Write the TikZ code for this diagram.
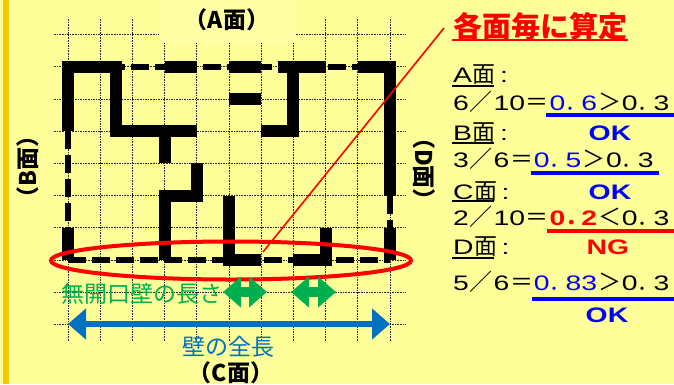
\documentclass[tikz,border=0pt]{standalone}
\usepackage{fontspec}
\usetikzlibrary{arrows.meta,positioning,shapes.geometric}
\newfontfamily\numfont[FakeStretch=1.35]{Liberation Sans}
\newfontfamily\cjk{Noto Sans CJK JP}
\newcommand{\fs}[1]{\fontsize{#1}{#1}\selectfont}
\newcommand{\cj}[1]{\kern0.8pt{\cjk\fs{23}#1}\kern0.8pt}
\newcommand{\dt}{\makebox[16pt][l]{\cjk\fs{21}．}}
\definecolor{pagebg}{HTML}{FFFF99}
\definecolor{boxbg}{HTML}{FFFFA6}
\definecolor{barcol}{HTML}{F5C800}
\definecolor{lengreen}{HTML}{00B050}
\definecolor{lenblue}{HTML}{0070C0}
\tikzset{
  gridline/.style={black!85,line width=0.8pt,dash pattern=on 1.6pt off 1pt},
  wall/.style={line width=12pt,line join=miter},
  thinwall/.style={line width=6pt,dash pattern=on 18pt off 6pt},
  sidelabel/.style={inner sep=0pt,font=\cjk\bfseries\fs{23}},
  rowtext/.style={anchor=west,inner sep=0pt,text height=14pt,text depth=0pt,font=\numfont\fs{21}},
  verdict/.style={inner sep=0pt,font=\numfont\bfseries\fs{21}},
  okbar/.style={blue,line width=4pt},
  ngbar/.style={red,line width=4pt},
  underbar/.style={black,line width=1.6pt},
}
\begin{document}
\begin{tikzpicture}[x=1pt,y=-1pt]
  \useasboundingbox (0,0) rectangle (674,384);
  \fill[pagebg] (0,0) rectangle (674,384);
  \fill[barcol] (3,0) rectangle (9,384);
  % grid and plan, in grid squares
  \begin{scope}[shift={(68,260)},x=32.2pt,y=32.2pt]
    \foreach \i in {0,...,10}
      \draw[gridline] (\i,7.48) -- (\i,-2.5);
    \foreach \j in {-2,...,7}
      \draw[gridline] (-0.43,\j) -- (10.5,\j);
    \node[fill=boxbg,inner sep=0pt,minimum width=137pt,minimum height=43pt] (afacebox) at (4.95,7.42) {};
    \draw[thinwall,dash phase=9pt] (1.5,6) -- (3,6);
    \draw[thinwall,dash phase=18pt] (4,6) -- (5,6);
    \draw[thinwall,dash phase=7pt] (6,6) -- (6.5,6);
    \draw[thinwall,dash phase=22pt] (8,6) -- (9,6);
    \draw[thinwall] (0,4) -- (0,1);
    \draw[thinwall] (10,2) -- (10,1);
    \draw[thinwall] (0,0) -- (5,0);
    \draw[thinwall,dash phase=21pt] (6,0) -- (7,0);
    \draw[thinwall] (8.32,0) -- (10,0);
    \draw[wall] (0,4) -- (0,6) -- (1.5,6) -- (1.5,4) -- (4,4);
    \draw[wall] (3,4) -- (3,3);
    \draw[wall] (3,6) -- (4,6);
    \draw[wall] (5,6) -- (6,6);
    \draw[wall] (5,5) -- (6,5);
    \draw[wall] (6.52,6) -- (8,6);
    \draw[wall] (7,6) -- (7,4) -- (6,4);
    \draw[wall] (9,6) -- (10,6) -- (10,2);
    \draw[wall] (4,3) -- (4,2) -- (3,2) -- (3,0);
    \draw[wall] (5,2) -- (5,0) -- (6,0);
    \draw[wall] (7,0) -- (8,0) -- (8,1);
    \draw[wall] (10,1) -- (10,0);
    \draw[wall] (0,1) -- (0,0);
  \end{scope}
  % face labels
  \node[sidelabel] (aface) at (227,20) {（A面）};
  \node[sidelabel] (cface) at (231,373) {（C面）};
  \node[sidelabel,rotate=90] (bface) at (28,167) {（B面）};
  \node[sidelabel,rotate=-90] (dface) at (424,169) {（D面）};
  % section to be measured
  \node[ellipse,draw=red,line width=4pt,minimum width=360pt,minimum height=38pt,inner sep=0pt] (oval) at (231,260.5) {};
  \coordinate (leadtop) at (444,28);
  \coordinate (leadfoot) at (263,252);
  \draw[red,line width=1.6pt] (leadtop) -- (leadfoot);
  % lengths
  \coordinate (gapal) at (223,292);
  \coordinate (gapar) at (267,292);
  \coordinate (gapbl) at (291,292);
  \coordinate (gapbr) at (336,292);
  \draw[lengreen,line width=10pt,{Triangle[length=18pt,width=30pt]}-{Triangle[length=18pt,width=30pt]}] (gapal) -- (gapar);
  \draw[lengreen,line width=10pt,{Triangle[length=18pt,width=30pt]}-{Triangle[length=18pt,width=30pt]}] (gapbl) -- (gapbr);
  \coordinate (fullleft) at (68,324);
  \coordinate (fullright) at (390,324);
  \draw[lenblue,line width=6pt,{Triangle[length=18pt,width=30pt]}-{Triangle[length=18pt,width=30pt]}] (fullleft) -- (fullright);
  \node[inner sep=0pt,text=lengreen,font=\cjk\fs{23}] (gaptext) at (142,294) {無開口壁の長さ};
  \node[inner sep=0pt,text=lenblue,font=\cjk\fs{23}] (fulltext) at (228.5,347) {壁の全長};
  % results
  \node[inner sep=0pt,anchor=west,text=red,font=\cjk\bfseries\fs{29}] (title) at (453,26) {各面毎に算定};
  \draw[red,line width=2pt] (452,39.5) -- (628,39.5);
  \node[rowtext] (ahead) at (453,75) {A\cj{面}};
  \node[rowtext,right=3pt of ahead] (acolon) {:};
  \node[rowtext] (arow) at (453,103) {6\cj{／}10\cj{＝}\textcolor{blue}{0\dt 6}\cj{＞}0\dt 3};
  \node[rowtext] (bhead) at (453,133) {B\cj{面}};
  \node[rowtext,right=3pt of bhead] (bcolon) {:};
  \node[rowtext] (brow) at (453,160) {3\cj{／}6\cj{＝}\textcolor{blue}{0\dt 5}\cj{＞}0\dt 3};
  \node[rowtext] (chead) at (453,192) {C\cj{面}};
  \node[rowtext,right=3pt of chead] (ccolon) {:};
  \node[rowtext] (crow) at (453,218) {2\cj{／}10\cj{＝}\textcolor{red}{\bfseries 0\dt 2}\cj{＜}0\dt 3};
  \node[rowtext] (dhead) at (453,247) {D\cj{面}};
  \node[rowtext,right=3pt of dhead] (dcolon) {:};
  \node[rowtext] (drow) at (453,283) {5\cj{／}6\cj{＝}\textcolor{blue}{0\dt 83}\cj{＞}0\dt 3};
  \node[verdict,text=blue] (aok) at (610,133) {OK};
  \node[verdict,text=blue] (bok) at (610,192) {OK};
  \node[verdict,text=red] (cng) at (608,247) {NG};
  \node[verdict,text=blue] (dok) at (607,315) {OK};
  \draw[underbar] (452,86) -- (494,86);
  \draw[underbar] (452,143) -- (494,143);
  \draw[underbar] (452,201) -- (494,201);
  \draw[underbar] (452,258) -- (494,258);
  \draw[okbar] (546,115) -- (674,115);
  \draw[okbar] (531,173) -- (659,173);
  \draw[ngbar] (547,231) -- (674,231);
  \draw[okbar] (532,299) -- (674,299);
\end{tikzpicture}
\end{document}
